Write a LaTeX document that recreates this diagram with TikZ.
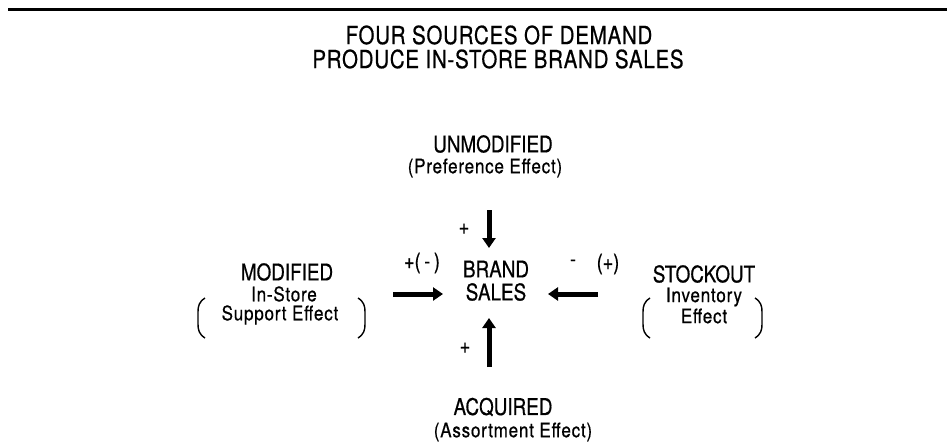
\documentclass[tikz,border=0pt]{standalone}
\usepackage{fontspec}
\setmainfont{TeX Gyre Heros}
\newfontfamily\titlefont[FakeStretch=0.82,FakeBold=0.6,LetterSpace=3]{TeX Gyre Heros}
\newfontfamily\narrowfont[FakeStretch=0.82,FakeBold=0.6]{TeX Gyre Heros}
\newfontfamily\lowfont[FakeStretch=0.85,FakeBold=0.6,LetterSpace=4]{TeX Gyre Heros}
\usetikzlibrary{arrows.meta}
\begin{document}
\begin{tikzpicture}[x=1pt,y=-1pt,
  ttl/.style={font=\titlefont\fontsize{25}{28}\selectfont, inner sep=0pt},
  captxt/.style={font=\narrowfont\fontsize{23}{26}\selectfont, inner sep=0pt},
  low/.style={font=\lowfont\fontsize{20}{22}\selectfont, inner sep=0pt},
  sgn/.style={font=\narrowfont\fontsize{22}{24}\selectfont, inner sep=0pt},
  arr/.style={line width=5pt, -{Triangle[length=10pt,width=13pt]}},
  paren/.style={line width=1.4pt}]
\useasboundingbox (0,0) rectangle (947,445);
% top rule
\coordinate (rl) at (8,9);
\coordinate (rr) at (947,9);
\draw[line width=3pt] (rl) -- (rr);
% title
\node[ttl] (title1) at (499,35) {FOUR SOURCES OF DEMAND};
\node[ttl] (title2) at (498,59) {PRODUCE IN-STORE BRAND SALES};
% top source
\node[captxt] (unmod) at (493,144) {UNMODIFIED};
\node[low] (pref) at (485,168) {(Preference Effect)};
% centre
\node[captxt] (brand) at (496,269) {BRAND};
\node[captxt] (sales) at (496,292) {SALES};
% left source
\node[captxt] (modif) at (287,272) {MODIFIED};
\node[low] (instore) at (284,294) {In-Store};
\node[low] (support) at (280,315) {Support Effect};
\draw[paren] (205,298) .. controls (199,302) and (198,306) .. (198,312) -- (198,324) .. controls (198,330) and (199,334) .. (205,338);
\draw[paren] (358,298) .. controls (364,302) and (365,306) .. (365,312) -- (365,324) .. controls (365,330) and (364,334) .. (358,338);
% right source
\node[captxt] (stock) at (704,274) {STOCKOUT};
\node[low] (invent) at (704,297) {Inventory};
\node[low] (effect) at (704,316) {Effect};
\draw[paren] (650,298) .. controls (644,302) and (643,306) .. (643,312) -- (643,324) .. controls (643,330) and (644,334) .. (650,338);
\draw[paren] (755,298) .. controls (761,302) and (762,306) .. (762,312) -- (762,324) .. controls (762,330) and (761,334) .. (755,338);
% bottom source
\node[captxt] (acq) at (503,407) {ACQUIRED};
\node[low] (assort) at (513,432) {(Assortment Effect)};
% arrows
\coordinate (dtail) at (489,210);
\coordinate (dhead) at (489,248);
\draw[arr] (dtail) -- (dhead);
\node[sgn] (pd) at (464,229) {+};
\coordinate (ltail) at (393,294);
\coordinate (lhead) at (443,294);
\draw[arr] (ltail) -- (lhead);
\node[sgn] (pl) at (422,263) {+(\,-\,)};
\coordinate (rtail) at (598,294);
\coordinate (rhead) at (548,294);
\draw[arr] (rtail) -- (rhead);
\node[sgn] (mr) at (573,263) {-};
\node[sgn] (pr) at (608,264) {(+)};
\coordinate (utail) at (489,367);
\coordinate (uhead) at (489,318);
\draw[arr] (utail) -- (uhead);
\node[sgn] (pu) at (465,348) {+};
\end{tikzpicture}
\end{document}
